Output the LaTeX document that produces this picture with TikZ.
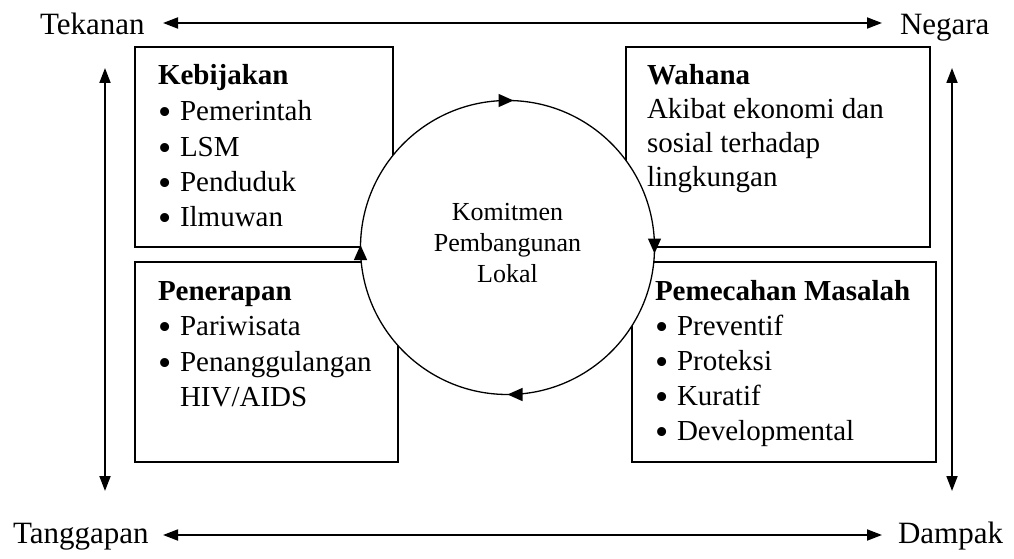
\documentclass[tikz,border=0pt]{standalone}
\usepackage{fontspec}
\usepackage{graphicx}
\setmainfont{Liberation Serif}
\usetikzlibrary{arrows.meta}
\newcommand{\bi}{\makebox[22pt][l]{\raisebox{-4pt}{\scalebox{1.3}{\textbullet}}}}
\begin{document}
\begin{tikzpicture}[x=1pt,y=-1pt,
  boxst/.style={draw, line width=1.6pt, rectangle, inner sep=0pt, outer sep=0pt},
  lbl/.style={inner sep=0pt, outer sep=0pt, anchor=base west, font=\fontsize{31}{37}\selectfont},
  body/.style={inner sep=0pt, outer sep=0pt, anchor=base west, font=\fontsize{29}{35.5}\selectfont},
  dbl/.style={line width=1.8pt, {Triangle[length=15pt,width=11pt]}-{Triangle[length=15pt,width=11pt]}},
  ring/.style={circle, draw, line width=1.3pt, fill=white, minimum size=294pt, inner sep=0pt, outer sep=0pt},
  ringtip/.style={line width=1.3pt, -{Triangle[length=15pt,width=13pt]}}
]
\useasboundingbox (0,0) rectangle (1014,559);

% outer labels
\node[lbl] (tek) at (40,35) {Tekanan};
\node[lbl] (neg) at (900,35) {Negara};
\node[lbl] (tang) at (13,543) {Tanggapan};
\node[lbl] (dam) at (898,543) {Dampak};

% outer arrows
\coordinate (ta) at (163,23);
\coordinate (tb) at (882,23);
\coordinate (ba) at (163,535);
\coordinate (bb) at (882,535);
\coordinate (la) at (105,68);
\coordinate (lb) at (105,491);
\coordinate (ra) at (952,68);
\coordinate (rb) at (952,491);
\draw[dbl] (ta) -- (tb);
\draw[dbl] (ba) -- (bb);
\draw[dbl] (la) -- (lb);
\draw[dbl] (ra) -- (rb);

% boxes
\node[boxst, minimum width=258pt, minimum height=200pt] (kb) at (264,147) {};
\node[boxst, minimum width=304pt, minimum height=200pt] (wh) at (778,147) {};
\node[boxst, minimum width=263pt, minimum height=200pt] (pn) at (266.5,362) {};
\node[boxst, minimum width=304pt, minimum height=200pt] (pm) at (784,362) {};

% circle
\node[ring] (cyc) at (507.5,247.5) {};
\draw[ringtip] ([xshift=-10pt]cyc.north) -- ([xshift=6pt]cyc.north);
\draw[ringtip] ([yshift=8pt]cyc.east) -- ([yshift=-6pt]cyc.east);
\draw[ringtip] ([xshift=12pt]cyc.south) -- ([xshift=0pt]cyc.south);
\draw[ringtip] ([yshift=-10pt]cyc.west) -- ([yshift=2.5pt]cyc.west);

\node[inner sep=0pt, outer sep=0pt, anchor=base, font=\fontsize{26}{31}\selectfont] (kom) at (507.5,220)
  {\begin{tabular}[t]{@{}c@{}}Komitmen\\ Pembangunan\\ Lokal\end{tabular}};

% box texts
\node[body] (kbt) at (158,85) {\begin{tabular}[t]{@{}l@{}}\textbf{Kebijakan}\\ \bi Pemerintah\\ \bi LSM\\ \bi Penduduk\\ \bi Ilmuwan\end{tabular}};
\node[body, font=\fontsize{29}{34}\selectfont] (wht) at (647,85) {\begin{tabular}[t]{@{}l@{}}\textbf{Wahana}\\ Akibat ekonomi dan\\ sosial terhadap\\ lingkungan\end{tabular}};
\node[body] (pnt) at (158,300) {\begin{tabular}[t]{@{}l@{}}\textbf{Penerapan}\\ \bi Pariwisata\\ \bi Penanggulangan\\ \hspace*{22pt}HIV/AIDS\end{tabular}};
\node[body, font=\fontsize{29}{35}\selectfont] (pmt) at (655,300) {\begin{tabular}[t]{@{}l@{}}\textbf{Pemecahan Masalah}\\ \bi Preventif\\ \bi Proteksi\\ \bi Kuratif\\ \bi Developmental\end{tabular}};
\end{tikzpicture}
\end{document}
